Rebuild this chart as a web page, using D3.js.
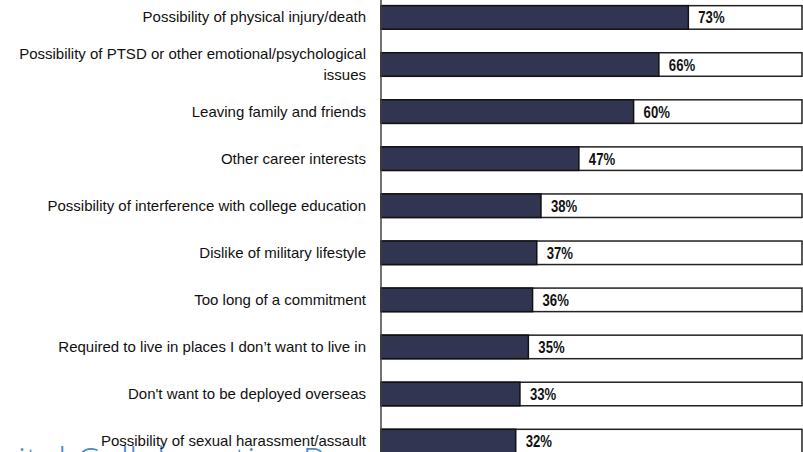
<!DOCTYPE html>
<html>
<head>
<meta charset="utf-8">
<script src="https://cdn.jsdelivr.net/npm/d3@7/dist/d3.min.js"></script>
<style>
  html, body { margin: 0; padding: 0; background: #fff; overflow: hidden; }
  svg { display: block; }
</style>
</head>
<body>
<svg id="chart" width="803" height="452"></svg>
<script>
const categories = [
  "Possibility of physical injury/death",
  "Possibility of PTSD or other emotional/psychological|issues",
  "Leaving family and friends",
  "Other career interests",
  "Possibility of interference with college education",
  "Dislike of military lifestyle",
  "Too long of a commitment",
  "Required to live in places I don\u2019t want to live in",
  "Don't want to be deployed overseas",
  "Possibility of sexual harassment/assault"
];
const values = [73, 66, 60, 47, 38, 37, 36, 35, 33, 32];
const valueLabels = ["73%", "66%", "60%", "47%", "38%", "37%", "36%", "35%", "33%", "32%"];
const watermark = "Digital Collaborative Research";

const W = 803, H = 452;
const svg = d3.select("#chart");

const x = d3.scaleLinear().domain([0, 100]).range([381, 802]);
const y = d3.scaleBand().domain(categories).range([-6.1, 464.6]).paddingInner(0.5).paddingOuter(0.25);

// background watermark text
const wm = svg.append("text")
  .attr("y", 474)
  .attr("font-family", "'Open Sans', 'Liberation Sans', sans-serif")
  .attr("font-size", 37)
  .attr("font-weight", 300)
  .attr("fill", "#4f88c9")
  .text(watermark);
const cIdx = watermark.indexOf("C");
const cPos = wm.node().getStartPositionOfChar(cIdx).x;
wm.attr("x", 76 - cPos);

// background (100%) boxes
svg.append("g").selectAll("rect")
  .data(categories)
  .join("rect")
  .attr("x", x(0))
  .attr("y", d => y(d))
  .attr("width", x(100) - x(0))
  .attr("height", y.bandwidth())
  .attr("fill", "#fff")
  .attr("stroke", "#222")
  .attr("stroke-width", 1.5);

// value bars
svg.append("g").selectAll("rect")
  .data(categories)
  .join("rect")
  .attr("x", x(0))
  .attr("y", d => y(d))
  .attr("width", (d, i) => x(values[i]) - x(0))
  .attr("height", y.bandwidth())
  .attr("fill", "#323552")
  .attr("stroke", "#111")
  .attr("stroke-width", 1.5);

// value labels (condensed bold)
svg.append("g").selectAll("text")
  .data(categories)
  .join("text")
  .attr("transform", (d, i) => `translate(${x(values[i]) + 10},${y(d) + y.bandwidth() / 2 + 6}) scale(0.82,1)`)
  .attr("font-family", "'Liberation Sans', Arial, sans-serif")
  .attr("font-weight", "bold")
  .attr("font-size", 16)
  .attr("fill", "#111")
  .text((d, i) => valueLabels[i]);

// axis line
svg.append("line")
  .attr("x1", x(0)).attr("x2", x(0))
  .attr("y1", 0).attr("y2", H)
  .attr("stroke", "#444")
  .attr("stroke-width", 1.5);

// category labels
const lab = svg.append("g").selectAll("text")
  .data(categories)
  .join("text")
  .attr("text-anchor", "end")
  .attr("font-family", "'Liberation Sans', Arial, sans-serif")
  .attr("font-size", 15)
  .attr("fill", "#111");
lab.each(function(d) {
  const lines = d.split("|");
  const cy = y(d) + y.bandwidth() / 2;
  const lh = 21;
  const t = d3.select(this);
  lines.forEach((ln, k) => {
    t.append("tspan")
      .attr("x", 366)
      .attr("y", cy + 5 + (k - (lines.length - 1) / 2) * lh)
      .text(ln);
  });
});
</script>
</body>
</html>
